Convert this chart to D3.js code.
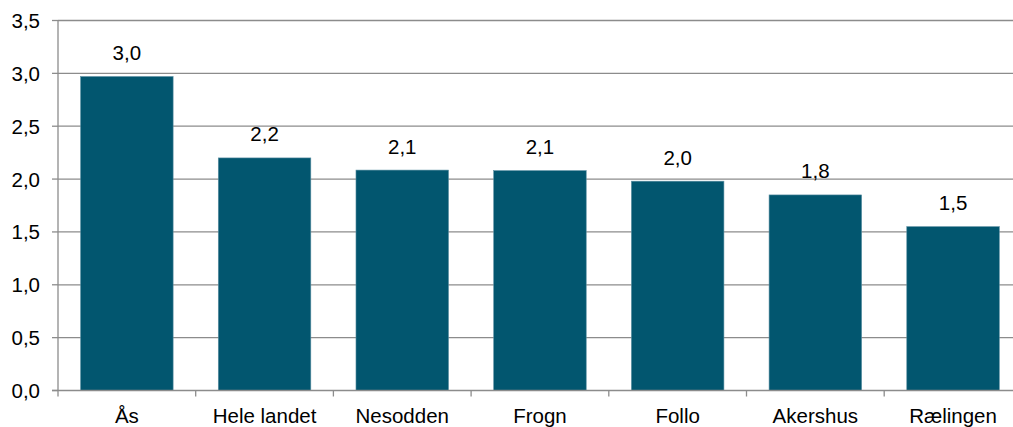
<!DOCTYPE html>
<html><head><meta charset="utf-8">
<script src="https://cdn.jsdelivr.net/npm/d3@7"></script>
<style>html,body{margin:0;padding:0;background:#fff;overflow:hidden}</style>
</head><body>
<svg id="c" width="1013" height="427"></svg>
<script>
const categories = ["Ås","Hele landet","Nesodden","Frogn","Follo","Akershus","Rælingen"];
const values = [2.97, 2.20, 2.085, 2.08, 1.98, 1.85, 1.55];
const valueLabels = ["3,0","2,2","2,1","2,1","2,0","1,8","1,5"];
const yTicks = [0,0.5,1,1.5,2,2.5,3,3.5];

const svg = d3.select("#c");
const font = "'Liberation Sans', Arial, sans-serif";
const fs = 20.5;
const x0 = 58, step = 137.7;
const x = d3.scaleBand().domain(categories).range([x0, x0 + step*categories.length]).paddingInner(0.328).paddingOuter(0.164);
const y = d3.scaleLinear().domain([0,3.5]).range([390.5,20.5]);
const fmt = v => d3.format(".1f")(v).replace(".", ",");

// gridlines
svg.append("g").selectAll("line").data(yTicks.slice(1)).join("line")
  .attr("x1", x0).attr("x2", 1013).attr("y1", d=>y(d)).attr("y2", d=>y(d))
  .attr("stroke","#8c8c8c").attr("stroke-width",1.3);

// y axis
const ya = svg.append("g");
ya.append("line").attr("x1",x0).attr("x2",x0).attr("y1",y(3.5)).attr("y2",y(0)).attr("stroke","#8c8c8c").attr("stroke-width",1.3);
ya.selectAll(".t").data(yTicks).join("line").attr("x1",x0-6).attr("x2",x0).attr("y1",d=>y(d)).attr("y2",d=>y(d)).attr("stroke","#8c8c8c").attr("stroke-width",1.3);
ya.selectAll("text").data(yTicks).join("text")
  .attr("x",40).attr("y",d=>y(d)+7.5)
  .attr("text-anchor","end").attr("font-family",font).attr("font-size",fs).attr("fill","#000")
  .text(fmt);

// bars
svg.append("g").selectAll("rect").data(values).join("rect")
  .attr("x",(d,i)=>x(categories[i])).attr("width",x.bandwidth())
  .attr("y",d=>y(d)).attr("height",d=>y(0)-y(d))
  .attr("fill","#02566f").attr("stroke","#5b8fa2").attr("stroke-width",0.6);

// x axis
const xa = svg.append("g");
xa.append("line").attr("x1",x0-6).attr("x2",1013).attr("y1",y(0)).attr("y2",y(0)).attr("stroke","#8c8c8c").attr("stroke-width",1.3);
const bounds = d3.range(categories.length+1).map(i => x0 + i*x.step());
xa.selectAll(".t").data(bounds).join("line").attr("x1",d=>d).attr("x2",d=>d).attr("y1",y(0)).attr("y2",y(0)+6).attr("stroke","#8c8c8c").attr("stroke-width",1.3);
xa.selectAll("text").data(categories).join("text")
  .attr("x",d=>x(d)+x.bandwidth()/2).attr("y",423)
  .attr("text-anchor","middle").attr("font-family",font).attr("font-size",fs).attr("fill","#000")
  .text(d=>d);

// value labels
svg.append("g").selectAll("text").data(values).join("text")
  .attr("x",(d,i)=>x(categories[i])+x.bandwidth()/2).attr("y",d=>y(d)-16.5)
  .attr("text-anchor","middle").attr("font-family",font).attr("font-size",fs).attr("fill","#000")
  .text((d,i)=>valueLabels[i]);
</script>
</body></html>
